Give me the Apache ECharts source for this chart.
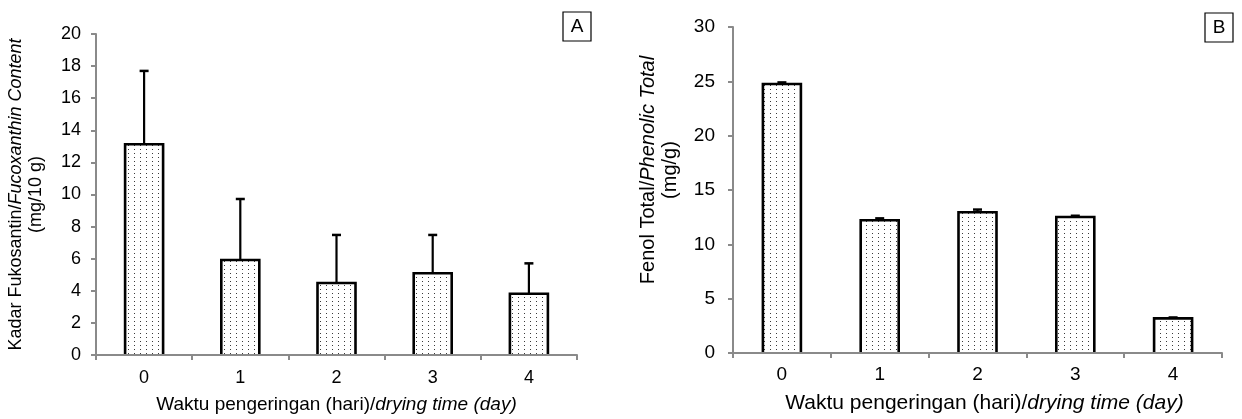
<!DOCTYPE html>
<html><head><meta charset="utf-8">
<script src="https://cdn.jsdelivr.net/npm/echarts@6/dist/echarts.min.js"></script>
<style>html,body{margin:0;padding:0;background:#fff}#c{width:1242px;height:419px}</style>
</head><body><div id="c"></div>
<script>
// ---- data ----
const categories = ['0', '1', '2', '3', '4'];
const fucoValues = [13.13, 5.92, 4.49, 5.09, 3.82];
const fucoErrors = [4.57, 3.80, 2.99, 2.39, 1.89];
const phenolValues = [24.75, 12.21, 12.95, 12.51, 3.19];
const phenolErrors = [0.15, 0.18, 0.25, 0.12, 0.08];
const fucoAxis = { min: 0, max: 20, interval: 2 };
const phenolAxis = { min: 0, max: 30, interval: 5 };
const panelLabels = ['A', 'B'];

const FONT = '"Liberation Sans", Arial, sans-serif';
const AXIS_GREY = '#8a8a8a';
const BAR_W = 38;

function dotPattern() {
  const c = document.createElement('canvas');
  c.width = 6; c.height = 4;
  const g = c.getContext('2d');
  g.fillStyle = '#ffffff'; g.fillRect(0, 0, 6, 4);
  g.fillStyle = '#3a3a3a'; g.fillRect(2, 1, 1, 1);
  return c;
}
const pattern = { image: dotPattern(), repeat: 'repeat' };

// bar outline (left, top, right sides) + upward error bar
function outlineErrorSeries(idx, vals, errs) {
  return {
    type: 'custom', xAxisIndex: idx, yAxisIndex: idx, z: 4,
    data: vals.map((v, i) => [i, v, v + errs[i]]),
    encode: { x: 0, y: [1, 2] },
    renderItem(params, api) {
      const x = api.value(0);
      const zero = api.coord([x, 0]);
      const base = api.coord([x, api.value(1)]);
      const top = api.coord([x, api.value(2)]);
      const hw = 4.5, bw = BAR_W / 2;
      const cx = base[0];
      return { type: 'group', children: [
        { type: 'polyline', shape: { points: [[cx - bw, zero[1]], [cx - bw, base[1]], [cx + bw, base[1]], [cx + bw, zero[1]]] },
          style: { stroke: '#000', lineWidth: 2.6, fill: null, lineJoin: 'miter' } },
        { type: 'line', shape: { x1: cx, y1: base[1], x2: cx, y2: top[1] }, style: { stroke: '#000', lineWidth: 2.2 } },
        { type: 'line', shape: { x1: cx - hw, y1: top[1], x2: cx + hw, y2: top[1] }, style: { stroke: '#000', lineWidth: 2.5 } }
      ] };
    }
  };
}

function xAxisCfg(idx, fs, nfs, gap, margin, pad) {
  return {
    gridIndex: idx, type: 'category', data: categories, z: 5,
    axisLine: { lineStyle: { color: AXIS_GREY, width: 2 } },
    axisTick: { show: true, length: 5, lineStyle: { color: AXIS_GREY, width: 2 } },
    axisLabel: { color: '#000', fontSize: fs, fontFamily: FONT, margin: margin },
    name: '{n|Waktu pengeringan (hari)/}{i|drying time (day)}',
    nameLocation: 'middle', nameGap: gap,
    nameTextStyle: { padding: pad, rich: {
      n: { fontSize: nfs, fontFamily: FONT, color: '#000' },
      i: { fontSize: nfs, fontFamily: FONT, color: '#000', fontStyle: 'italic' }
    } }
  };
}
function yAxisCfg(idx, ax, fs, nfs, name, gap, margin, pad) {
  return {
    gridIndex: idx, type: 'value', min: ax.min, max: ax.max, interval: ax.interval,
    axisLine: { show: true, lineStyle: { color: AXIS_GREY, width: 2 } },
    axisTick: { show: true, length: 5, lineStyle: { color: AXIS_GREY, width: 2 } },
    splitLine: { show: false },
    axisLabel: { color: '#000', fontSize: fs, fontFamily: FONT, margin: margin },
    name: name, nameLocation: 'middle', nameRotate: 90, nameGap: gap,
    nameTextStyle: { lineHeight: nfs + 2, padding: pad, rich: {
      n: { fontSize: nfs, fontFamily: FONT, color: '#000', lineHeight: nfs + 2 },
      i: { fontSize: nfs, fontFamily: FONT, color: '#000', fontStyle: 'italic', lineHeight: nfs + 2 }
    } }
  };
}

function boxLabel(text, x, y) {
  return { type: 'group', x: x, y: y, children: [
    { type: 'rect', shape: { x: 0, y: 0, width: 28, height: 29 }, style: { fill: '#fff', stroke: '#000', lineWidth: 1.2 } },
    { type: 'text', x: 14, y: 15, style: { text: text, fill: '#000', font: '19px ' + FONT, align: 'center', verticalAlign: 'middle' } }
  ] };
}

const chart = echarts.init(document.getElementById('c'), null, { renderer: 'canvas' });
chart.setOption({
  backgroundColor: '#fff',
  animation: false,
  grid: [
    { left: 96, top: 34, width: 481, height: 321 },
    { left: 733, top: 27, width: 489, height: 326 }
  ],
  xAxis: [ xAxisCfg(0, 18, 19, 40, 14, 0), xAxisCfg(1, 19, 21, 40, 12, [0, 0, 0, 14]) ],
  yAxis: [
    yAxisCfg(0, fucoAxis, 18, 18, '{n|Kadar Fukosantin/}{i|Fucoxanthin Content}\n{n|(mg/10 g)}', 50, 15, 0),
    yAxisCfg(1, phenolAxis, 19, 20, '{n|Fenol Total/}{i|Phenolic Total}\n{n|(mg/g)}', 52, 18, [0, 0, 0, 40])
  ],
  series: [
    { type: 'bar', xAxisIndex: 0, yAxisIndex: 0, data: fucoValues, barWidth: BAR_W,
      itemStyle: { color: pattern, borderWidth: 0 } },
    outlineErrorSeries(0, fucoValues, fucoErrors),
    { type: 'bar', xAxisIndex: 1, yAxisIndex: 1, data: phenolValues, barWidth: BAR_W,
      itemStyle: { color: pattern, borderWidth: 0 } },
    outlineErrorSeries(1, phenolValues, phenolErrors)
  ],
  graphic: [ boxLabel(panelLabels[0], 563, 12), boxLabel(panelLabels[1], 1205, 13) ]
});
</script>
</body></html>
